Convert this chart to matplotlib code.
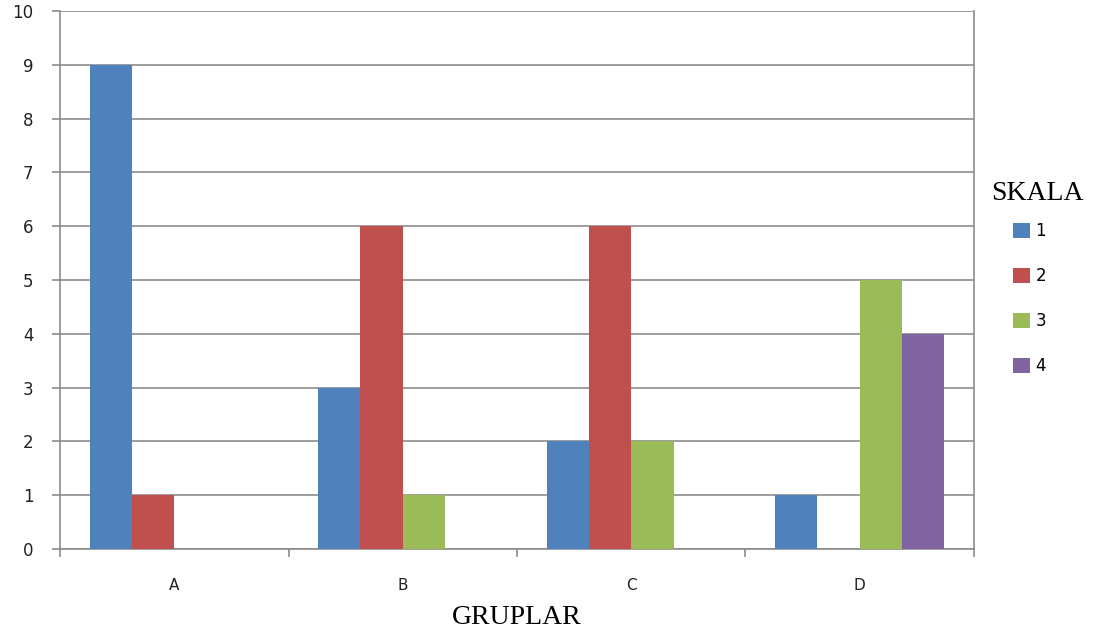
import numpy as np
import matplotlib.pyplot as plt
from matplotlib.patches import Patch

# Group counts per scale level
groups = ['A', 'B', 'C', 'D']
scale_levels = ['1', '2', '3', '4']
scale_1 = [9, 3, 2, 1]
scale_2 = [1, 6, 6, 0]
scale_3 = [0, 1, 2, 5]
scale_4 = [0, 0, 0, 4]

colors = ['#4F81BD', '#C0504D', '#9BBB59', '#8064A2']
grid_gray = '#8C8C8C'

fig = plt.figure(figsize=(10.98, 6.36), dpi=100)
ax = fig.add_axes([60 / 1098, 1 - 549 / 636, 914 / 1098, 538 / 636])

x = np.arange(len(groups))
width = 0.185
series = [scale_1, scale_2, scale_3, scale_4]
for i, vals in enumerate(series):
    offset = (i - 1.5) * width
    ax.bar(x + offset, vals, width, color=colors[i], linewidth=0, zorder=3)

ax.set_xlim(-0.5, len(groups) - 0.5)
ax.set_ylim(0, 10)
ax.set_yticks(range(0, 11))
ax.yaxis.grid(True, color=grid_gray, linewidth=1.2, zorder=0)

# category ticks sit between groups, labels in the middle
ax.set_xticks(np.arange(-0.5, len(groups)), labels=[''] * (len(groups) + 1))
ax.set_xticks(x, labels=groups, minor=True)
ax.tick_params(axis='x', which='major', length=6, width=1.2, color=grid_gray, direction='out')
ax.tick_params(axis='x', which='minor', length=0, pad=21, labelsize=11, labelcolor='#222222')
ax.tick_params(axis='y', length=6, width=1.2, color=grid_gray, pad=13, labelsize=12, labelcolor='#222222')

for side in ['left', 'bottom', 'right']:
    ax.spines[side].set_color(grid_gray)
    ax.spines[side].set_linewidth(1.2)
ax.spines['top'].set_visible(False)

fig.text(517 / 1098, 1 - 617 / 636, 'GRUPLAR', ha='center', va='center',
         family='Liberation Serif', fontsize=20)

# legend title drawn separately so the gap to the entries can be tuned
fig.text(1037 / 1098, 1 - 193 / 636, 'SKALA', ha='center', va='center',
         family='Liberation Serif', fontsize=20)
handles = [Patch(facecolor=c, edgecolor='none') for c in colors]
fig.legend(handles, scale_levels, loc='center left',
           bbox_to_anchor=(1013 / 1098, 1 - 298.5 / 636), frameon=False,
           fontsize=12, labelspacing=1.63,
           handlelength=1.0, handleheight=1.0, handletextpad=0.35,
           borderpad=0, borderaxespad=0)

plt.savefig('out.png', dpi=100)
